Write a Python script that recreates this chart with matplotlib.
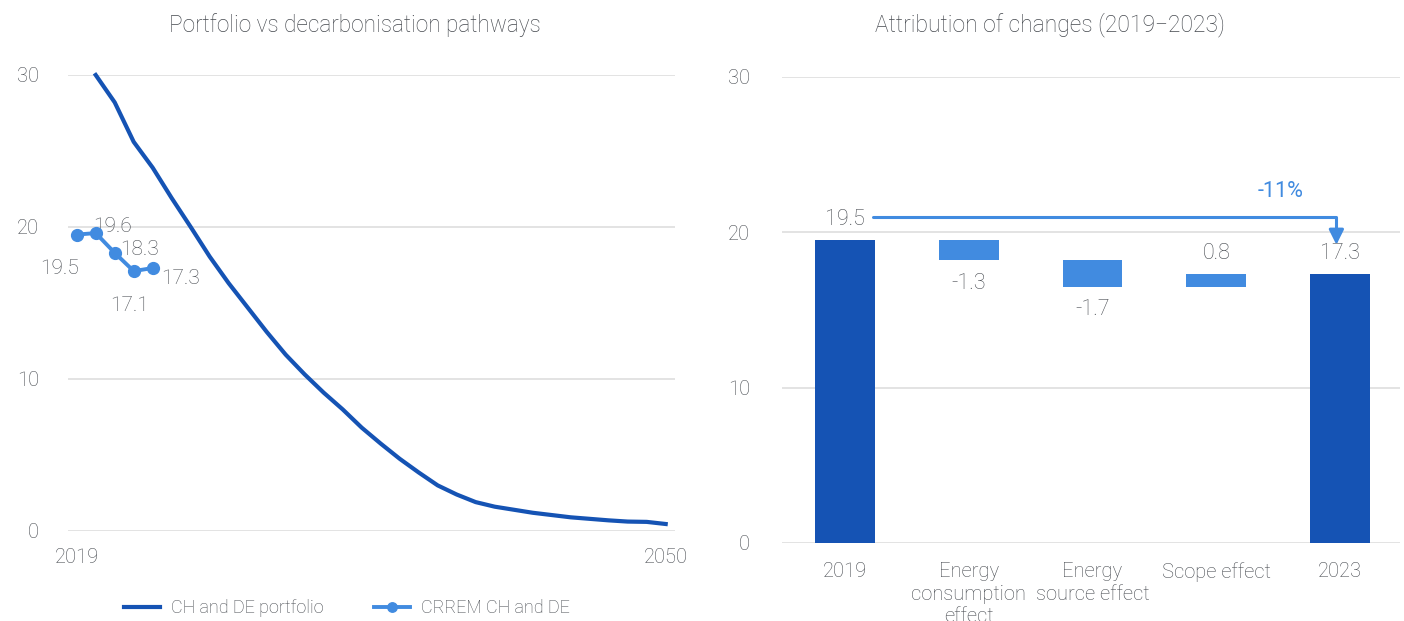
import matplotlib
matplotlib.use("Agg")
import matplotlib.pyplot as plt
import numpy as np

plt.rcParams['font.family'] = ['Roboto', 'DejaVu Sans']
plt.rcParams['font.weight'] = 'light'

# ---- data: left chart ----
portfolio_years = list(range(2020, 2051))
portfolio_values = [30.0, 28.2, 25.6, 23.9, 21.9, 20.0, 18.05, 16.3, 14.7, 13.1,
                    11.6, 10.3, 9.1, 8.0, 6.8, 5.75, 4.75, 3.85, 3.0, 2.4,
                    1.9, 1.6, 1.4, 1.2, 1.05, 0.9, 0.8, 0.7, 0.62, 0.6, 0.46]
crrem_years = [2019, 2020, 2021, 2022, 2023]
crrem_values = [19.5, 19.6, 18.3, 17.1, 17.3]
crrem_labels = ["19.5", "19.6", "18.3", "17.1", "17.3"]

# ---- data: right chart ----
wf_categories = ["2019", "Energy\nconsumption\neffect", "Energy\nsource effect", "Scope effect", "2023"]
wf_values = [19.5, -1.3, -1.7, 0.8, 17.3]
wf_is_total = [True, False, False, False, True]
change_label = "-11%"

DARK = "#1553b4"
LIGHT = "#418be0"
GRID = "#e3e3e3"
TXT = "#45494f"
FS = 14.5

fig = plt.figure(figsize=(14.04, 6.21), dpi=100)

# ---------- left chart ----------
ax1 = fig.add_axes([68/1404, 1-531/621, (675-68)/1404, (531-75)/621])
ax1.plot(portfolio_years, portfolio_values, color=DARK, lw=3.0, clip_on=False, zorder=3,
         label="CH and DE portfolio", solid_joinstyle='round')
ax1.plot(crrem_years, crrem_values, color=LIGHT, lw=2.8, marker='o', ms=8.5, zorder=4,
         label="CRREM CH and DE")
ax1.set_xlim(2019 - 8.7/19, 2019 + (675-76.7)/19)
ax1.set_ylim(0, 30)
ax1.set_yticks([0, 10, 20, 30])
ax1.set_xticks([2019, 2050])
ax1.grid(axis='y', color=GRID, lw=1.4)
ax1.set_axisbelow(True)
for s in ax1.spines.values():
    s.set_visible(False)
ax1.tick_params(axis='both', length=0, labelsize=FS, labelcolor=TXT)
ax1.tick_params(axis='x', pad=12)
ax1.tick_params(axis='y', pad=21)

offsets = [(-17, -34), (17, 7), (25, 3), (-4, -34), (28, -10)]
for x, y, lab, off in zip(crrem_years, crrem_values, crrem_labels, offsets):
    ax1.annotate(lab, (x, y), xytext=off, textcoords='offset pixels',
                 ha='center', va='center', fontsize=FS + 0.5, color=TXT)

leg = ax1.legend(loc='center', bbox_to_anchor=(347/1404, 1-608/621),
                 bbox_transform=fig.transFigure, ncol=2, frameon=False,
                 fontsize=13, handlelength=2.0, columnspacing=2.8,
                 handletextpad=0.6, markerscale=0.8)
for t in leg.get_texts():
    t.set_color(TXT)

fig.text(355/1404, 1-25/621, "Portfolio vs decarbonisation pathways",
         ha='center', va='center', fontsize=16.3, color=TXT)

# ---------- right chart ----------
ax2 = fig.add_axes([782/1404, 1-543/621, 618/1404, 466/621])
xs = np.arange(len(wf_categories))
bottoms, heights, colors = [], [], []
running = 0.0
for v, tot in zip(wf_values, wf_is_total):
    if tot:
        bottoms.append(0.0); heights.append(v); colors.append(DARK)
        running = v
    else:
        if v < 0:
            bottoms.append(running + v); heights.append(-v)
        else:
            bottoms.append(running); heights.append(v)
        colors.append(LIGHT)
        running += v
bw = 60/124
ax2.bar(xs, heights, bottom=bottoms, width=bw, color=colors, zorder=3)
ax2.set_xlim(-63/124, 4 + 60/124)
ax2.set_ylim(0, 30)
ax2.set_yticks([0, 10, 20, 30])
ax2.set_xticks(xs)
ax2.set_xticklabels(wf_categories, va='top', linespacing=1.22)
ax2.grid(axis='y', color=GRID, lw=1.4)
ax2.set_axisbelow(True)
for s in ax2.spines.values():
    s.set_visible(False)
ax2.tick_params(axis='both', length=0, labelsize=FS, labelcolor=TXT)
ax2.tick_params(axis='x', pad=14)
ax2.tick_params(axis='y', pad=23)

for x, v, b, h, tot in zip(xs, wf_values, bottoms, heights, wf_is_total):
    lab = f"{v:.1f}"
    if v >= 0:
        ax2.annotate(lab, (x, b + h), xytext=(0, 21), textcoords='offset pixels',
                     ha='center', va='center', fontsize=15.5, color=TXT)
    else:
        ax2.annotate(lab, (x, b), xytext=(0, -23), textcoords='offset pixels',
                     ha='center', va='center', fontsize=15.5, color=TXT)

# change arrow
ax2.annotate('', xy=(3.97, wf_values[-1] + 1.9), xytext=(0.23, 21.0),
             arrowprops=dict(arrowstyle='-|>', connectionstyle='angle,angleA=0,angleB=90,rad=0',
                             color=LIGHT, lw=2.2, mutation_scale=22, shrinkA=0, shrinkB=0),
             zorder=5)
ax2.text(3.52, 22.6, change_label, ha='center', va='center', fontsize=15.5,
         color=LIGHT, fontweight='normal')

fig.text(1050/1404, 1-25/621, "Attribution of changes (2019\u22122023)",
         ha='center', va='center', fontsize=16.5, color=TXT)

fig.savefig("out.png", dpi=100)
